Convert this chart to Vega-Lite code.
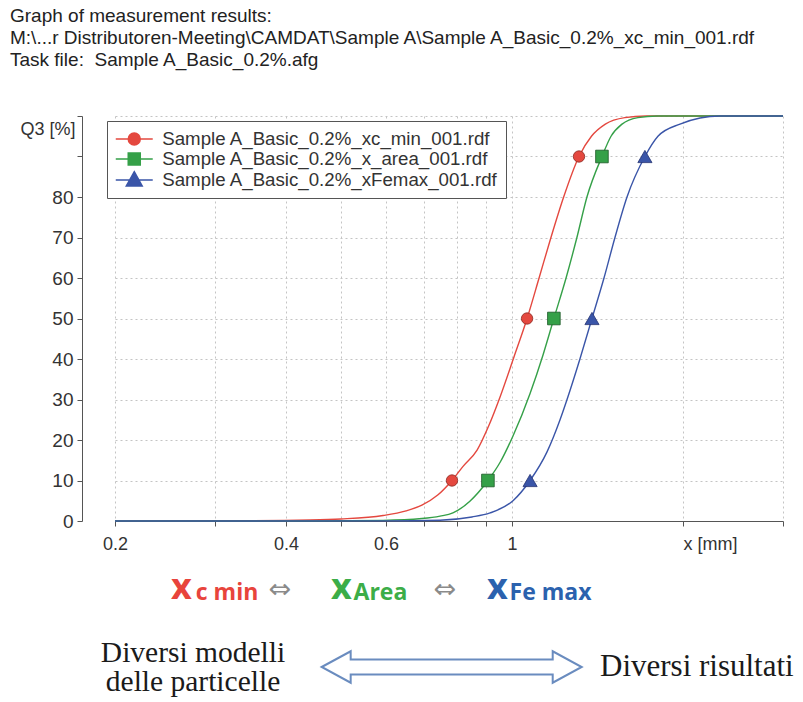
{
"$schema": "https://vega.github.io/schema/vega-lite/v6.json",
"width": 668, "height": 405,
"autosize": {"type": "none"},
"padding": {"left": 115, "top": 116, "right": 20, "bottom": 181},
"background": "white",
"title": {"text": ["Graph of measurement results:", "M:\\...r Distributoren-Meeting\\CAMDAT\\Sample A\\Sample A_Basic_0.2%_xc_min_001.rdf", "Task file: \u00a0Sample A_Basic_0.2%.afg"], "anchor": "start", "frame": "group", "dx": -105, "offset": 43, "fontSize": 19, "font": "Liberation Sans", "fontWeight": "normal", "color": "#222", "lineHeight": 22},
"config": {"view": {"stroke": null}, "font": "Liberation Sans"},
"datasets": {
"curves": [
{"series":"Sample A_Basic_0.2%_xc_min_001.rdf","x":0.2,"q":0},
{"series":"Sample A_Basic_0.2%_xc_min_001.rdf","x":0.328,"q":0.05},
{"series":"Sample A_Basic_0.2%_xc_min_001.rdf","x":0.441,"q":0.25},
{"series":"Sample A_Basic_0.2%_xc_min_001.rdf","x":0.5,"q":0.5},
{"series":"Sample A_Basic_0.2%_xc_min_001.rdf","x":0.593,"q":1.35},
{"series":"Sample A_Basic_0.2%_xc_min_001.rdf","x":0.651,"q":2.5},
{"series":"Sample A_Basic_0.2%_xc_min_001.rdf","x":0.694,"q":3.9},
{"series":"Sample A_Basic_0.2%_xc_min_001.rdf","x":0.74,"q":6.4},
{"series":"Sample A_Basic_0.2%_xc_min_001.rdf","x":0.784,"q":10},
{"series":"Sample A_Basic_0.2%_xc_min_001.rdf","x":0.82,"q":13.5},
{"series":"Sample A_Basic_0.2%_xc_min_001.rdf","x":0.868,"q":17.5},
{"series":"Sample A_Basic_0.2%_xc_min_001.rdf","x":0.91,"q":23.5},
{"series":"Sample A_Basic_0.2%_xc_min_001.rdf","x":0.952,"q":30.5},
{"series":"Sample A_Basic_0.2%_xc_min_001.rdf","x":1.008,"q":40.5},
{"series":"Sample A_Basic_0.2%_xc_min_001.rdf","x":1.063,"q":50},
{"series":"Sample A_Basic_0.2%_xc_min_001.rdf","x":1.116,"q":60},
{"series":"Sample A_Basic_0.2%_xc_min_001.rdf","x":1.171,"q":70},
{"series":"Sample A_Basic_0.2%_xc_min_001.rdf","x":1.233,"q":80},
{"series":"Sample A_Basic_0.2%_xc_min_001.rdf","x":1.312,"q":90},
{"series":"Sample A_Basic_0.2%_xc_min_001.rdf","x":1.38,"q":95},
{"series":"Sample A_Basic_0.2%_xc_min_001.rdf","x":1.46,"q":98},
{"series":"Sample A_Basic_0.2%_xc_min_001.rdf","x":1.58,"q":99.6},
{"series":"Sample A_Basic_0.2%_xc_min_001.rdf","x":1.721,"q":100},
{"series":"Sample A_Basic_0.2%_xc_min_001.rdf","x":3,"q":100},
{"series":"Sample A_Basic_0.2%_x_area_001.rdf","x":0.2,"q":0},
{"series":"Sample A_Basic_0.2%_x_area_001.rdf","x":0.45,"q":0.02},
{"series":"Sample A_Basic_0.2%_x_area_001.rdf","x":0.593,"q":0.15},
{"series":"Sample A_Basic_0.2%_x_area_001.rdf","x":0.694,"q":0.6},
{"series":"Sample A_Basic_0.2%_x_area_001.rdf","x":0.747,"q":1.2},
{"series":"Sample A_Basic_0.2%_x_area_001.rdf","x":0.787,"q":2},
{"series":"Sample A_Basic_0.2%_x_area_001.rdf","x":0.843,"q":4.9},
{"series":"Sample A_Basic_0.2%_x_area_001.rdf","x":0.907,"q":10},
{"series":"Sample A_Basic_0.2%_x_area_001.rdf","x":0.953,"q":14.5},
{"series":"Sample A_Basic_0.2%_x_area_001.rdf","x":1.004,"q":21},
{"series":"Sample A_Basic_0.2%_x_area_001.rdf","x":1.076,"q":31.5},
{"series":"Sample A_Basic_0.2%_x_area_001.rdf","x":1.134,"q":41},
{"series":"Sample A_Basic_0.2%_x_area_001.rdf","x":1.185,"q":50},
{"series":"Sample A_Basic_0.2%_x_area_001.rdf","x":1.245,"q":60},
{"series":"Sample A_Basic_0.2%_x_area_001.rdf","x":1.301,"q":70},
{"series":"Sample A_Basic_0.2%_x_area_001.rdf","x":1.355,"q":80},
{"series":"Sample A_Basic_0.2%_x_area_001.rdf","x":1.44,"q":90},
{"series":"Sample A_Basic_0.2%_x_area_001.rdf","x":1.494,"q":95},
{"series":"Sample A_Basic_0.2%_x_area_001.rdf","x":1.562,"q":98},
{"series":"Sample A_Basic_0.2%_x_area_001.rdf","x":1.666,"q":99.6},
{"series":"Sample A_Basic_0.2%_x_area_001.rdf","x":1.8,"q":100},
{"series":"Sample A_Basic_0.2%_x_area_001.rdf","x":3,"q":100},
{"series":"Sample A_Basic_0.2%_xFemax_001.rdf","x":0.2,"q":0},
{"series":"Sample A_Basic_0.2%_xFemax_001.rdf","x":0.6,"q":0.02},
{"series":"Sample A_Basic_0.2%_xFemax_001.rdf","x":0.747,"q":0.2},
{"series":"Sample A_Basic_0.2%_xFemax_001.rdf","x":0.85,"q":1},
{"series":"Sample A_Basic_0.2%_xFemax_001.rdf","x":0.915,"q":2},
{"series":"Sample A_Basic_0.2%_xFemax_001.rdf","x":1.004,"q":5},
{"series":"Sample A_Basic_0.2%_xFemax_001.rdf","x":1.076,"q":10},
{"series":"Sample A_Basic_0.2%_xFemax_001.rdf","x":1.152,"q":17},
{"series":"Sample A_Basic_0.2%_xFemax_001.rdf","x":1.215,"q":25},
{"series":"Sample A_Basic_0.2%_xFemax_001.rdf","x":1.25,"q":30},
{"series":"Sample A_Basic_0.2%_xFemax_001.rdf","x":1.317,"q":40},
{"series":"Sample A_Basic_0.2%_xFemax_001.rdf","x":1.383,"q":50},
{"series":"Sample A_Basic_0.2%_xFemax_001.rdf","x":1.452,"q":60},
{"series":"Sample A_Basic_0.2%_xFemax_001.rdf","x":1.518,"q":70},
{"series":"Sample A_Basic_0.2%_xFemax_001.rdf","x":1.594,"q":80},
{"series":"Sample A_Basic_0.2%_xFemax_001.rdf","x":1.714,"q":90},
{"series":"Sample A_Basic_0.2%_xFemax_001.rdf","x":1.807,"q":95},
{"series":"Sample A_Basic_0.2%_xFemax_001.rdf","x":1.976,"q":98},
{"series":"Sample A_Basic_0.2%_xFemax_001.rdf","x":2.143,"q":99.5},
{"series":"Sample A_Basic_0.2%_xFemax_001.rdf","x":2.323,"q":100},
{"series":"Sample A_Basic_0.2%_xFemax_001.rdf","x":3,"q":100}
],
"markers": [
{"series":"Sample A_Basic_0.2%_xc_min_001.rdf","x":0.784,"q":10},
{"series":"Sample A_Basic_0.2%_xc_min_001.rdf","x":1.063,"q":50},
{"series":"Sample A_Basic_0.2%_xc_min_001.rdf","x":1.312,"q":90},
{"series":"Sample A_Basic_0.2%_x_area_001.rdf","x":0.907,"q":10},
{"series":"Sample A_Basic_0.2%_x_area_001.rdf","x":1.185,"q":50},
{"series":"Sample A_Basic_0.2%_x_area_001.rdf","x":1.44,"q":90},
{"series":"Sample A_Basic_0.2%_xFemax_001.rdf","x":1.076,"q":10},
{"series":"Sample A_Basic_0.2%_xFemax_001.rdf","x":1.383,"q":50},
{"series":"Sample A_Basic_0.2%_xFemax_001.rdf","x":1.714,"q":90}
]
},
"layer": [
{
"encoding": {
"x": {"field": "x", "type": "quantitative", "scale": {"type": "log", "domain": [0.2, 3], "nice": false},
  "axis": {"values": [0.2,0.3,0.4,0.5,0.6,0.7,0.8,0.9,1,2,3], "title": null, "grid": true, "gridDash": [2,3], "gridColor": "#c4c4c4", "domainColor": "#555", "tickColor": "#555", "tickSize": 5, "labelFontSize": 18, "labelColor": "#333", "labelFont": "Liberation Sans", "labelPadding": 9, "labelFlush": false, "labelOverlap": false,
    "labelAlign": {"condition": {"test": "datum.value == 2", "value": "left"}, "value": "center"},
    "labelExpr": "datum.value == 2 ? 'x [mm]' : (datum.value == 0.2 || datum.value == 0.4 || datum.value == 0.6 || datum.value == 1) ? format(datum.value, '~g') : ''"}},
"y": {"field": "q", "type": "quantitative", "scale": {"domain": [0, 100], "nice": false},
  "axis": {"values": [0,10,20,30,40,50,60,70,80,90,100], "title": "Q3 [%]", "titleAngle": 0, "titleAlign": "right", "titleBaseline": "middle", "titleX": -7, "titleY": 13, "titleFontSize": 18, "titleFontWeight": "normal", "titleColor": "#333", "titleFont": "Liberation Sans", "offset": 33, "grid": true, "gridDash": [2,3], "gridColor": "#c4c4c4", "domainColor": "#555", "tickColor": "#555", "tickSize": 5, "labelFontSize": 19, "labelColor": "#333", "labelFont": "Liberation Sans", "labelPadding": 4,
    "labelExpr": "datum.value <= 80 ? datum.label : ''"}},
"color": {"field": "series", "type": "nominal",
  "scale": {"domain": ["Sample A_Basic_0.2%_xc_min_001.rdf","Sample A_Basic_0.2%_x_area_001.rdf","Sample A_Basic_0.2%_xFemax_001.rdf"], "range": ["#e4483f","#35a048","#3a55a8"]},
  "legend": {"title": null, "orient": "none", "legendX": -8, "legendY": 5, "direction": "vertical", "labelFontSize": 18.7, "labelFont": "Liberation Sans", "labelColor": "#333", "labelLimit": 500, "labelOffset": 18, "symbolOffset": 9.25, "symbolSize": 342, "strokeColor": "#555", "fillColor": "white", "padding": 8, "rowPadding": -1, "symbolStrokeWidth": 1.5,
    "encode": {"symbols": {"update": {"fill": {"scale": "color", "field": "value"}, "stroke": {"scale": "color", "field": "value"}, "opacity": {"value": 1}}}}}}
},
"layer": [
{"data": {"name": "curves"}, "mark": {"type": "line", "interpolate": "monotone", "strokeWidth": 1.4}},
{"data": {"name": "markers"}, "transform": [{"filter": "indexof(datum.series, 'xc_min') >= 0"}], "mark": {"type": "point", "shape": "circle", "filled": true, "opacity": 1, "size": 130, "stroke": "#8a2a22", "strokeWidth": 0.8}},
{"data": {"name": "markers"}, "transform": [{"filter": "indexof(datum.series, 'x_area') >= 0"}], "mark": {"type": "point", "shape": "square", "filled": true, "opacity": 1, "size": 160, "stroke": "#1f5a2a", "strokeWidth": 0.8}},
{"data": {"name": "markers"}, "transform": [{"filter": "indexof(datum.series, 'xFemax') >= 0"}], "mark": {"type": "point", "shape": "triangle-up", "filled": true, "opacity": 1, "size": 200, "stroke": "#223070", "strokeWidth": 0.8}},
{"data": {"name": "markers"}, "mark": {"type": "point", "filled": true, "opacity": 0},
  "encoding": {"shape": {"field": "series", "type": "nominal",
    "scale": {"domain": ["Sample A_Basic_0.2%_xc_min_001.rdf","Sample A_Basic_0.2%_x_area_001.rdf","Sample A_Basic_0.2%_xFemax_001.rdf"], "range": ["M-2,0L-0.65,0M0.65,0L2,0M-0.65,0A0.65,0.65,0,1,1,0.65,0A0.65,0.65,0,1,1,-0.65,0Z", "M-2,0L-0.65,0M0.65,0L2,0M-0.65,-0.65L0.65,-0.65L0.65,0.65L-0.65,0.65Z", "M-2,0L-0.5,0M0.5,0L2,0M0,-0.9L0.86,0.65L-0.86,0.65Z"]},
    "legend": {"title": null, "orient": "none", "legendX": -8, "legendY": 5, "direction": "vertical", "labelFontSize": 18.7, "labelFont": "Liberation Sans", "labelColor": "#333", "labelLimit": 500, "labelOffset": 18, "symbolOffset": 9.25, "symbolSize": 342, "strokeColor": "#555", "fillColor": "white", "padding": 8, "rowPadding": -1, "symbolStrokeWidth": 1.5,
      "encode": {"symbols": {"update": {"fill": {"scale": "color", "field": "value"}, "stroke": {"scale": "color", "field": "value"}, "opacity": {"value": 1}}}}}}}}
]
},
{"data": {"values": [{"t": "x"}]}, "mark": {"type": "text", "align": "left", "baseline": "alphabetic", "font": "Open Sans", "fontWeight": "bold", "fontSize": 36, "color": "#e8443c"},
  "encoding": {"x": {"datum": 0.251, "type": "quantitative"}, "y": {"datum": -19.26, "type": "quantitative"}, "text": {"field": "t"}}},
{"data": {"values": [{"t": "c min"}]}, "mark": {"type": "text", "align": "left", "baseline": "alphabetic", "font": "Open Sans", "fontWeight": "bold", "fontSize": 23, "color": "#e8443c"},
  "encoding": {"x": {"datum": 0.2775, "type": "quantitative"}, "y": {"datum": -19.5, "type": "quantitative"}, "text": {"field": "t"}}},
{"data": {"values": [{"t": "x"}]}, "mark": {"type": "text", "align": "left", "baseline": "alphabetic", "font": "Open Sans", "fontWeight": "bold", "fontSize": 36, "color": "#3cad48"},
  "encoding": {"x": {"datum": 0.4801, "type": "quantitative"}, "y": {"datum": -19.26, "type": "quantitative"}, "text": {"field": "t"}}},
{"data": {"values": [{"t": "Area"}]}, "mark": {"type": "text", "align": "left", "baseline": "alphabetic", "font": "Open Sans", "fontWeight": "bold", "fontSize": 23, "color": "#3cad48"},
  "encoding": {"x": {"datum": 0.5260, "type": "quantitative"}, "y": {"datum": -19.5, "type": "quantitative"}, "text": {"field": "t"}}},
{"data": {"values": [{"t": "x"}]}, "mark": {"type": "text", "align": "left", "baseline": "alphabetic", "font": "Open Sans", "fontWeight": "bold", "fontSize": 36, "color": "#2b62ae"},
  "encoding": {"x": {"datum": 0.9036, "type": "quantitative"}, "y": {"datum": -19.26, "type": "quantitative"}, "text": {"field": "t"}}},
{"data": {"values": [{"t": "Fe max"}]}, "mark": {"type": "text", "align": "left", "baseline": "alphabetic", "font": "Open Sans", "fontWeight": "bold", "fontSize": 23, "color": "#2b62ae"},
  "encoding": {"x": {"datum": 0.9900, "type": "quantitative"}, "y": {"datum": -19.5, "type": "quantitative"}, "text": {"field": "t"}}},
{"data": {"values": [{"t": "⇔"}]}, "mark": {"type": "text", "align": "center", "baseline": "middle", "font": "DejaVu Sans", "fontSize": 27, "color": "#8a8a8a"},
  "encoding": {"x": {"datum": 0.3904, "type": "quantitative"}, "y": {"datum": -17.04, "type": "quantitative"}, "text": {"field": "t"}}},
{"data": {"values": [{"t": "⇔"}]}, "mark": {"type": "text", "align": "center", "baseline": "middle", "font": "DejaVu Sans", "fontSize": 27, "color": "#8a8a8a"},
  "encoding": {"x": {"datum": 0.7621, "type": "quantitative"}, "y": {"datum": -17.04, "type": "quantitative"}, "text": {"field": "t"}}},
{"data": {"values": [{"t": "Diversi modelli\ndelle particelle"}]}, "mark": {"type": "text", "align": "center", "baseline": "alphabetic", "font": "Liberation Serif", "fontSize": 29.5, "lineBreak": "\n", "lineHeight": 29, "color": "#1a1a1a"},
  "encoding": {"x": {"datum": 0.2744, "type": "quantitative"}, "y": {"datum": -34.81, "type": "quantitative"}, "text": {"field": "t"}}},
{"data": {"values": [{"t": "Diversi risultati"}]}, "mark": {"type": "text", "align": "left", "baseline": "alphabetic", "font": "Liberation Serif", "fontSize": 31, "color": "#1a1a1a"},
  "encoding": {"x": {"datum": 1.4286, "type": "quantitative"}, "y": {"datum": -38.27, "type": "quantitative"}, "text": {"field": "t"}}},
{"data": {"values": [{"t": "arrow"}]}, "mark": {"type": "point", "filled": true, "opacity": 1, "fill": "white", "stroke": "#6a8cbf", "strokeWidth": 2, "size": 67600, "shape": "M-1,0L-0.777,-0.121L-0.777,-0.058L0.777,-0.058L0.777,-0.121L1,0L0.777,0.121L0.777,0.058L-0.777,0.058L-0.777,0.121Z"},
  "encoding": {"x": {"datum": 0.7831, "type": "quantitative"}, "y": {"datum": -36.05, "type": "quantitative"}}}
]
}
